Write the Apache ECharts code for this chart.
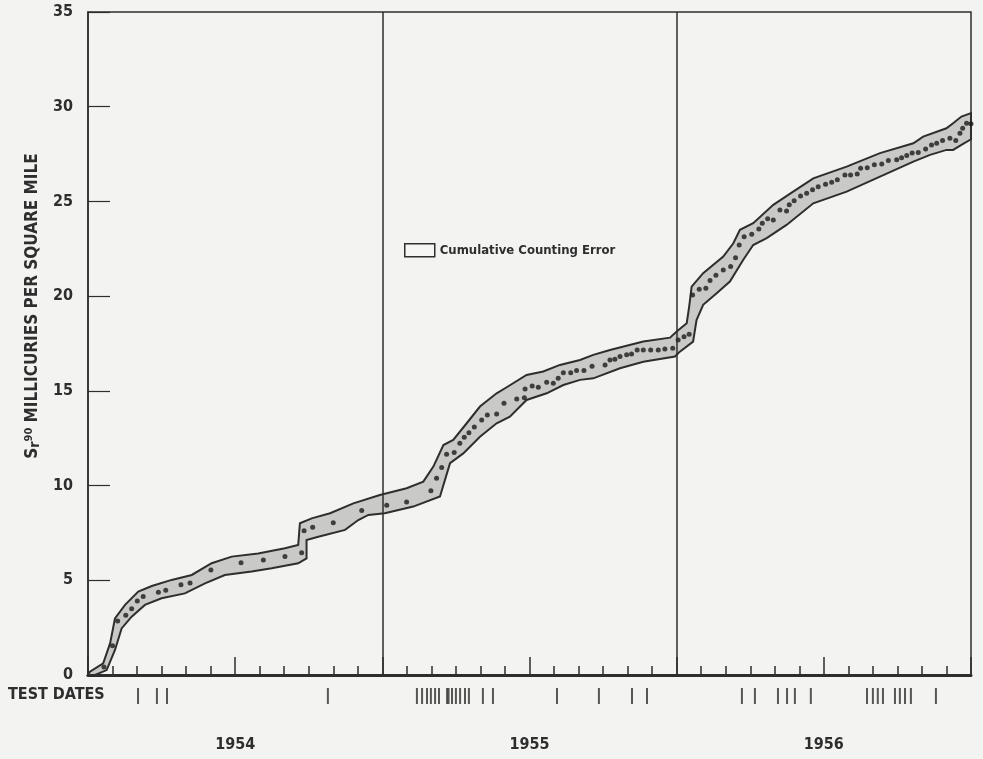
<!DOCTYPE html>
<html>
<head>
    <meta charset="utf-8">
    <title>Sr90 cumulative fallout</title>
    <script src="https://cdn.jsdelivr.net/npm/echarts@6/dist/echarts.min.js"></script>
    <style>
        html, body { margin: 0; padding: 0; background: #f3f3f1; }
        #main { width: 983px; height: 759px; }
    </style>
</head>
<body>
<div id="main"></div>
<script type="text/javascript">
    // x = months since 1 Jan 1954, y = mc/sq mi
    var dots = [
        [0.65, 0.42], [1.0, 1.55], [1.21, 2.85], [1.54, 3.15], [1.78, 3.5], [2.01, 3.91], [2.25, 4.15],
        [2.87, 4.37], [3.17, 4.47], [3.79, 4.77], [4.16, 4.86], [5.01, 5.54], [6.24, 5.93], [7.15, 6.07],
        [8.03, 6.25], [8.71, 6.46], [8.81, 7.62], [9.16, 7.8], [10.0, 8.04], [11.16, 8.68], [12.18, 8.96],
        [12.99, 9.13], [13.98, 9.73], [14.21, 10.38], [14.42, 10.95], [14.62, 11.65], [14.93, 11.74],
        [15.16, 12.23], [15.34, 12.55], [15.53, 12.79], [15.75, 13.09], [16.05, 13.46], [16.28, 13.73],
        [16.66, 13.78], [16.96, 14.34], [17.48, 14.57], [17.79, 14.64], [17.82, 15.1], [18.11, 15.26],
        [18.36, 15.19], [18.7, 15.45], [18.97, 15.4], [19.17, 15.66], [19.38, 15.96], [19.68, 15.96],
        [19.92, 16.07], [20.22, 16.07], [20.55, 16.3], [21.08, 16.37], [21.28, 16.63], [21.48, 16.67],
        [21.69, 16.81], [21.96, 16.9], [22.16, 16.95], [22.39, 17.16], [22.64, 17.16], [22.94, 17.16],
        [23.25, 17.16], [23.52, 17.21], [23.84, 17.25], [24.06, 17.69], [24.3, 17.86], [24.51, 17.99],
        [24.65, 20.06], [24.92, 20.36], [25.19, 20.42], [25.36, 20.82], [25.6, 21.1], [25.9, 21.38],
        [26.2, 21.56], [26.4, 22.03], [26.55, 22.7], [26.75, 23.14], [27.06, 23.27], [27.35, 23.55],
        [27.49, 23.85], [27.71, 24.08], [27.94, 24.02], [28.21, 24.55], [28.48, 24.5], [28.59, 24.82],
        [28.79, 25.04], [29.05, 25.29], [29.3, 25.43], [29.54, 25.61], [29.77, 25.78], [30.07, 25.91],
        [30.32, 26.01], [30.55, 26.14], [30.86, 26.4], [31.09, 26.4], [31.36, 26.45], [31.5, 26.75],
        [31.77, 26.78], [32.06, 26.93], [32.36, 26.98], [32.63, 27.16], [32.97, 27.2], [33.17, 27.31],
        [33.38, 27.42], [33.6, 27.55], [33.85, 27.58], [34.15, 27.77], [34.39, 27.98], [34.6, 28.07],
        [34.84, 28.21], [35.14, 28.34], [35.38, 28.21], [35.55, 28.6], [35.66, 28.86], [35.82, 29.13],
        [36.0, 29.1]
    ];

    // edges of the counting error band
    var bandUpper = [
        [0, 0], [0.08, 0.18], [0.62, 0.62], [0.9, 1.67], [1.1, 2.99], [1.51, 3.7], [2.05, 4.4], [2.6, 4.7],
        [3.41, 5.02], [4.23, 5.28], [5.04, 5.9], [5.86, 6.25], [6.94, 6.42], [8.03, 6.69], [8.57, 6.86],
        [8.64, 8.01], [9.12, 8.27], [9.87, 8.54], [10.82, 9.06], [11.9, 9.5], [12.99, 9.86], [13.67, 10.21],
        [14.08, 11.0], [14.49, 12.14], [14.89, 12.41], [15.44, 13.29], [15.98, 14.17], [16.66, 14.87],
        [17.07, 15.19], [17.88, 15.84], [18.56, 16.02], [19.24, 16.37], [20.06, 16.63], [20.6, 16.9],
        [21.28, 17.16], [22.64, 17.6], [23.73, 17.81], [24.0, 18.13], [24.41, 18.57], [24.51, 19.45],
        [24.61, 20.5], [25.08, 21.21], [25.9, 22.09], [26.31, 22.79], [26.58, 23.5], [27.12, 23.85],
        [27.94, 24.82], [28.75, 25.52], [29.57, 26.22], [30.93, 26.84], [32.29, 27.55], [33.65, 28.07],
        [34.05, 28.42], [35.0, 28.86], [35.27, 29.13], [35.61, 29.48], [36, 29.66]
    ];
    var bandLower = [
        [0, 0], [0.29, 0], [0.76, 0.26], [1.1, 1.32], [1.37, 2.46], [1.78, 3.08], [2.32, 3.7], [3.0, 4.05],
        [3.95, 4.31], [4.77, 4.84], [5.58, 5.28], [6.67, 5.46], [7.49, 5.63], [8.57, 5.9], [8.91, 6.16],
        [8.91, 7.13], [9.39, 7.3], [10.48, 7.66], [11.02, 8.18], [11.43, 8.45], [12.1, 8.54], [13.26, 8.89],
        [14.35, 9.42], [14.76, 11.18], [15.3, 11.7], [15.98, 12.58], [16.66, 13.29], [17.2, 13.64],
        [17.88, 14.52], [18.7, 14.87], [19.38, 15.31], [20.06, 15.58], [20.6, 15.66], [21.69, 16.19],
        [22.64, 16.54], [23.93, 16.81], [24.13, 17.07], [24.67, 17.6], [24.81, 18.74], [25.08, 19.54],
        [25.63, 20.15], [26.17, 20.77], [26.71, 21.91], [27.12, 22.7], [27.67, 23.06], [28.48, 23.76],
        [29.57, 24.9], [30.93, 25.52], [32.29, 26.31], [33.65, 27.1], [34.33, 27.46], [35.0, 27.72],
        [35.27, 27.72], [35.61, 27.98], [36, 28.28]
    ];

    var testDates = [
        2.04, 2.81, 3.22, 9.78,
        13.41, 13.62, 13.82, 13.98, 14.15, 14.31, 14.64, 14.7, 14.84, 15.0, 15.17, 15.37, 15.53,
        16.1, 16.51, 19.12, 20.83, 22.18, 22.79,
        26.66, 27.19, 28.13, 28.5, 28.82, 29.47,
        31.76, 32.0, 32.2, 32.41, 32.9, 33.1, 33.31, 33.55, 34.57
    ];

    var yearBreaks = [12, 24];
    var yearLabels = {6: '1954', 18: '1955', 30: '1956'};

    var ink = '#2e2e2e';
    var font = '"Liberation Sans Narrow", "DejaVu Sans Condensed", sans-serif';

    var myChart = echarts.init(document.getElementById('main'));
    myChart.setOption({
        backgroundColor: '#f3f3f1',
        animation: false,
        textStyle: {fontFamily: font, color: ink},
        legend: {
            left: 399,
            top: 238,
            icon: 'rect',
            itemWidth: 30,
            itemHeight: 13,
            itemGap: 10,
            textStyle: {fontFamily: font, fontWeight: 'bold', fontSize: 13, color: ink},
            data: [{
                name: 'Cumulative Counting Error',
                itemStyle: {color: '#f6f6f4', borderColor: ink, borderWidth: 1.5}
            }]
        },
        grid: [
            {left: 88, right: 12, top: 12, bottom: 84, show: true, borderColor: ink, borderWidth: 1.5, backgroundColor: 'transparent'},
            {left: 88, right: 12, top: 688, height: 16}
        ],
        xAxis: [
            {
                type: 'value', gridIndex: 0, min: 0, max: 36, interval: 1, position: 'bottom',
                axisLine: {show: true, lineStyle: {color: ink, width: 3}},
                axisTick: {show: true, inside: true, length: 9, lineStyle: {color: ink, width: 1.5}},
                axisLabel: {show: false},
                splitLine: {show: false}
            },
            {
                type: 'value', gridIndex: 0, min: 0, max: 36, interval: 6, position: 'bottom',
                axisLine: {show: false},
                axisTick: {show: true, inside: true, length: 18, lineStyle: {color: ink, width: 1.5}},
                axisLabel: {
                    show: true, margin: 62, fontSize: 16, fontWeight: 'bold', color: ink, fontFamily: font,
                    formatter: function (v) { return yearLabels[v] || ''; }
                },
                splitLine: {show: false}
            },
            {
                type: 'value', gridIndex: 1, min: 0, max: 36, show: false
            }
        ],
        yAxis: [
            {
                type: 'value', gridIndex: 0, min: 0, max: 35, interval: 5,
                axisLine: {show: true, lineStyle: {color: ink, width: 1.5}},
                axisTick: {show: true, inside: true, length: 22, lineStyle: {color: ink, width: 1.2}},
                axisLabel: {margin: 15, fontSize: 16, fontWeight: 'bold', color: ink, fontFamily: font},
                splitLine: {show: false}
            },
            {type: 'value', gridIndex: 1, min: 0, max: 1, show: false}
        ],
        graphic: [
            {
                type: 'text', left: 8, top: 687,
                style: {text: 'TEST DATES', fontFamily: font, fontWeight: 'bold', fontSize: 16, fill: ink}
            },
            {
                type: 'text', x: 33, y: 306, rotation: Math.PI / 2,
                style: {
                    text: 'S{sub|r}{sup|90} MILLICURIES PER SQUARE MILE',
                    fontFamily: font, fontWeight: 'bold', fontSize: 17, fill: ink,
                    align: 'center', verticalAlign: 'middle',
                    rich: {
                        sub: {fontFamily: font, fontWeight: 'bold', fontSize: 14, fill: ink, padding: [5, 0, 0, 0]},
                        sup: {fontFamily: font, fontWeight: 'bold', fontSize: 11, fill: ink, padding: [0, 0, 8, 0]}
                    }
                }
            }
        ],
        series: [
            {
                name: 'Cumulative Counting Error',
                type: 'custom',
                xAxisIndex: 0, yAxisIndex: 0,
                data: [[0, 0]],
                z: 2,
                renderItem: function (params, api) {
                    var pts = [];
                    bandUpper.forEach(function (p) { pts.push(api.coord(p)); });
                    bandLower.slice().reverse().forEach(function (p) { pts.push(api.coord(p)); });
                    return {
                        type: 'polygon',
                        shape: {points: pts},
                        style: {fill: '#c9c9c7', stroke: ink, lineWidth: 2}
                    };
                }
            },
            {
                name: 'Sr90',
                type: 'scatter',
                xAxisIndex: 0, yAxisIndex: 0,
                symbolSize: 5,
                itemStyle: {color: '#1c1c1c'},
                z: 3,
                data: dots,
                markLine: {
                    silent: true,
                    symbol: 'none',
                    label: {show: false},
                    lineStyle: {color: ink, width: 1.5, type: 'solid'},
                    data: yearBreaks.map(function (v) { return {xAxis: v}; })
                }
            },
            {
                name: 'Test dates',
                type: 'scatter',
                xAxisIndex: 2, yAxisIndex: 1,
                symbol: 'rect',
                symbolSize: [2, 16],
                itemStyle: {color: ink},
                data: testDates.map(function (d) { return [d, 0.5]; })
            }
        ]
    });
</script>
</body>
</html>
